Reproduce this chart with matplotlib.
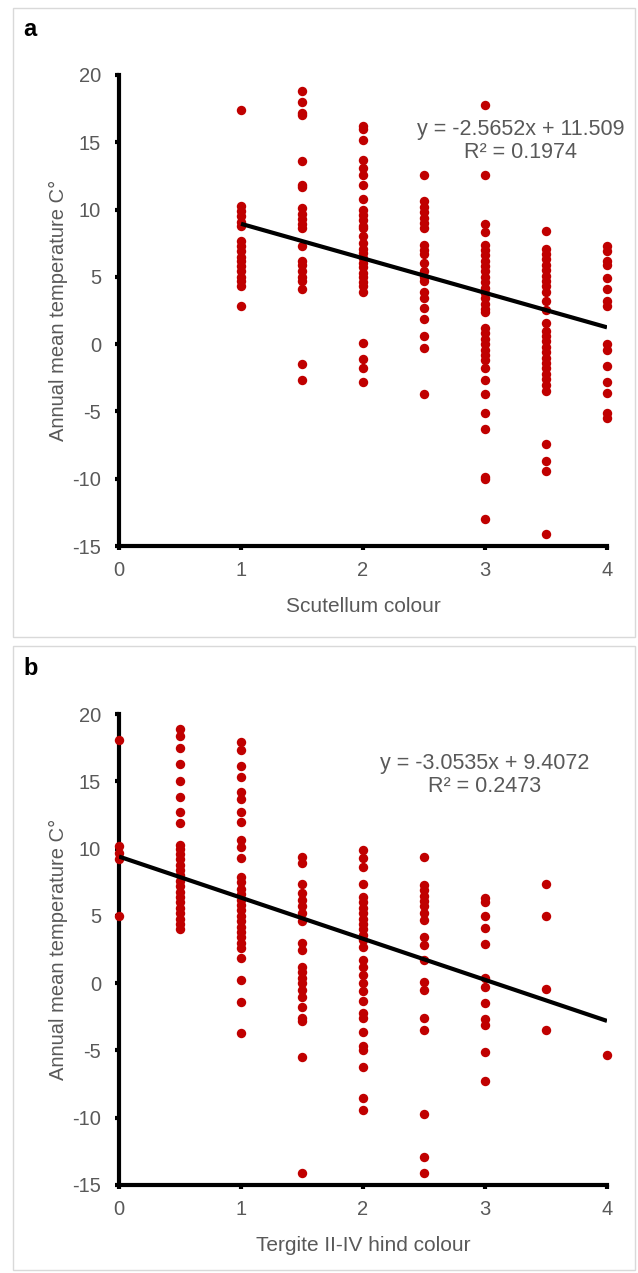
import numpy as np
import matplotlib
matplotlib.use("Agg")
import matplotlib.pyplot as plt
from matplotlib.patches import Rectangle

plt.rcParams['font.family'] = ['Liberation Sans', 'DejaVu Sans']
plt.rcParams['axes.unicode_minus'] = False

# panel a: scutellum colour -> temperatures at each colour score
a_scores = [1, 1.5, 2, 2.5, 3, 3.5, 4]
a_temps = [
    [17.4, 10.3, 9.9, 9.5, 9.1, 8.8, 7.7, 7.3, 6.9, 6.5, 6.2, 5.8, 5.4, 5.0, 4.7, 4.3, 2.8],
    [18.8, 18.0, 17.2, 17.0, 13.6, 11.8, 11.7, 10.1, 9.7, 9.3, 8.9, 8.6, 7.3, 6.2, 5.9,
     5.4, 5.0, 4.7, 4.1, -1.5, -2.7],
    [16.2, 16.0, 15.2, 13.7, 13.1, 12.6, 11.8, 10.8, 10.0, 9.6, 9.2, 8.8, 8.6, 8.0, 7.5,
     7.1, 6.8, 6.4, 6.0, 5.7, 5.3, 5.0, 4.6, 4.3, 3.9, 0.1, -1.1, -1.8, -2.8],
    [12.6, 10.6, 10.2, 9.8, 9.4, 9.0, 8.6, 7.4, 7.0, 6.7, 6.0, 5.4, 5.0, 4.7, 3.9, 3.4,
     2.7, 1.9, 0.6, -0.3, -3.7],
    [17.8, 12.6, 8.9, 8.3, 7.4, 7.0, 6.6, 6.2, 5.8, 5.4, 5.0, 4.6, 4.2, 3.8, 3.4, 3.0,
     2.6, 2.4, 1.2, 0.8, 0.4, 0.0, -0.4, -0.8, -1.2, -1.8, -2.7, -3.7, -5.1, -6.3,
     -9.9, -10.0, -13.0],
    [8.4, 7.1, 6.7, 6.3, 5.9, 5.5, 5.1, 4.7, 4.3, 3.9, 3.2, 2.5, 1.6, 1.0, 0.6, 0.2,
     -0.2, -0.6, -1.0, -1.4, -1.8, -2.2, -2.6, -3.0, -3.5, -7.4, -8.7, -9.4, -14.1],
    [7.3, 6.9, 6.2, 5.9, 4.9, 4.1, 3.2, 2.8, 0.0, -0.4, -1.6, -2.8, -3.6, -5.1, -5.5],
]
a_slope, a_icept, a_r2 = -2.5652, 11.509, 0.1974
a_fit_x = [1, 4]

# panel b: tergite II-IV hind colour
b_scores = [0, 0.5, 1, 1.5, 2, 2.5, 3, 3.5, 4]
b_temps = [
    [18.1, 10.2, 9.7, 9.2, 5.0],
    [18.9, 18.4, 17.5, 16.3, 15.0, 13.8, 12.7, 11.9, 10.3, 10.0, 9.6, 9.2, 8.8, 8.4,
     8.0, 7.6, 7.2, 6.8, 6.4, 6.0, 5.6, 5.2, 4.8, 4.4, 4.0],
    [17.9, 17.3, 16.1, 15.3, 14.2, 13.7, 12.7, 12.0, 10.6, 10.1, 9.3, 7.9, 7.5, 7.0,
     6.6, 6.2, 5.8, 5.4, 5.0, 4.6, 4.2, 3.8, 3.4, 3.0, 2.6, 1.9, 0.2, -1.4, -3.7],
    [9.4, 8.9, 7.4, 6.7, 6.2, 5.7, 5.2, 4.6, 3.0, 2.5, 1.2, 0.8, 0.4, 0.0, -0.5, -1.0,
     -1.8, -2.6, -2.8, -5.5, -14.1],
    [9.9, 9.3, 8.6, 7.4, 6.4, 6.0, 5.6, 5.2, 4.8, 4.4, 4.0, 3.6, 3.2, 2.7, 1.7, 1.2,
     0.6, 0.0, -0.6, -1.3, -2.2, -2.6, -3.6, -4.7, -5.0, -6.2, -8.5, -9.4],
    [9.4, 7.3, 6.9, 6.5, 6.1, 5.7, 5.2, 4.7, 3.4, 2.8, 1.7, 0.1, -0.5, -2.6, -3.5,
     -9.7, -12.9, -14.1],
    [6.3, 6.0, 5.0, 4.1, 2.9, 0.4, -0.3, -1.5, -2.7, -3.1, -5.1, -7.3],
    [7.35, 5.0, -0.45, -3.5],
    [-5.35],
]
b_slope, b_icept, b_r2 = -3.0535, 9.4072, 0.2473
b_fit_x = [0, 4]

grey = '#595959'
red = '#C00000'

W, H = 638, 1273
fig = plt.figure(figsize=(W / 100, H / 100), dpi=100)


def panel(top_px, scores, temps, slope, icept, r2, fit_x, xlabel, letter, txt_xy):
    ax = fig.add_axes([119 / W, 1 - (top_px + 471) / H, 488 / W, 471 / H])
    xs = np.concatenate([np.full(len(t), s) for s, t in zip(scores, temps)])
    ys = np.concatenate([np.array(t) for t in temps])
    ax.scatter(xs, ys, s=46, color=red, zorder=3, clip_on=False, linewidths=0)
    fx = np.array(fit_x, dtype=float)
    ax.plot(fx, slope * fx + icept, color='black', lw=3, zorder=4,
            solid_capstyle='butt')
    ax.set_xlim(0, 4)
    ax.set_ylim(-15, 20)
    ax.set_xticks([0, 1, 2, 3, 4])
    ax.set_yticks(np.arange(-15, 21, 5))
    for sp in ['top', 'right']:
        ax.spines[sp].set_visible(False)
    for sp in ['left', 'bottom']:
        ax.spines[sp].set_linewidth(3)
    ax.tick_params(direction='out', length=3, width=3, color='black',
                   labelcolor=grey, labelsize=14.5)
    ax.tick_params(axis='x', pad=8)
    ax.tick_params(axis='y', pad=10)
    ax.set_xlabel(xlabel, color=grey, fontsize=15, labelpad=12)
    ax.set_ylabel('Annual mean temperature C°', color=grey, fontsize=14.5,
                  labelpad=3)
    sign = '+' if icept >= 0 else '-'
    ax.text(txt_xy[0], txt_xy[1],
            f'y = {slope:.4f}x {sign} {abs(icept):g}\nR² = {r2:.4f}',
            ha='center', va='center', color=grey, fontsize=15.5,
            linespacing=1.1, multialignment='center')
    fig.text(23 / W, 1 - (top_px - 45) / H, letter, fontsize=17,
             fontweight='bold', ha='left', va='center')


panel(75, a_scores, a_temps, a_slope, a_icept, a_r2, a_fit_x,
      'Scutellum colour', 'a', (3.29, 15.1))
panel(714, b_scores, b_temps, b_slope, b_icept, b_r2, b_fit_x,
      'Tergite II-IV hind colour', 'b', (3.0, 15.45))

# light grey frames round each panel
for y0, y1 in [(8, 637), (646, 1270)]:
    fig.patches.append(Rectangle((13 / W, 1 - y1 / H), (635 - 13) / W, (y1 - y0) / H,
                                 transform=fig.transFigure, fill=False,
                                 edgecolor='#d9d9d9', lw=1))

fig.savefig('out.png', dpi=100)
